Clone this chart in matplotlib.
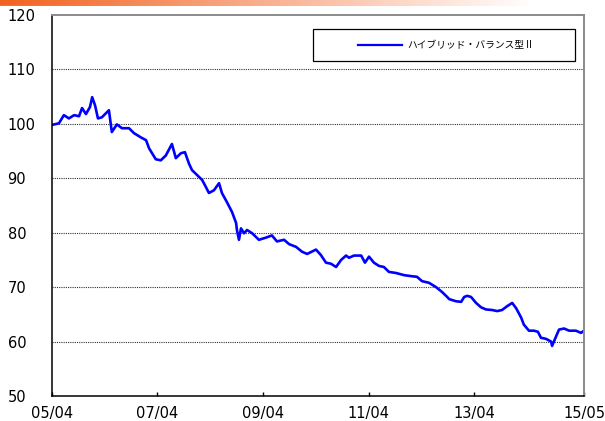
import numpy as np
import pandas as pd
import matplotlib
matplotlib.use('Agg')
import matplotlib.pyplot as plt
import matplotlib.dates as mdates
from matplotlib.patches import Rectangle, FancyBboxPatch

plt.rcParams['font.family'] = ['DejaVu Sans', 'Noto Sans CJK JP']

# 基準価額の推移 (2005/04 = 100)
dates = [
    '2005-04-01', '2005-05-19', '2005-06-22', '2005-07-27', '2005-09-01', '2005-10-05',
    '2005-10-26', '2005-11-22', '2005-12-20', '2006-01-04', '2006-01-24', '2006-02-13',
    '2006-03-12', '2006-04-30', '2006-05-20', '2006-06-24', '2006-07-29', '2006-09-16',
    '2006-10-20', '2006-12-08', '2007-01-12', '2007-02-02', '2007-03-20', '2007-04-24',
    '2007-05-29', '2007-07-10', '2007-08-06', '2007-09-10', '2007-10-08', '2007-11-05',
    '2007-11-26', '2007-12-31', '2008-02-04', '2008-03-01', '2008-03-22', '2008-04-26',
    '2008-05-31', '2008-06-20', '2008-07-25', '2008-08-29', '2008-09-26', '2008-10-02',
    '2008-10-16', '2008-10-30', '2008-11-20', '2008-12-11', '2009-01-15', '2009-03-03',
    '2009-04-21', '2009-06-01', '2009-07-06', '2009-08-24', '2009-09-28', '2009-11-15',
    '2009-12-27', '2010-01-31', '2010-04-02', '2010-05-06', '2010-06-10', '2010-07-15',
    '2010-08-19', '2010-09-23', '2010-10-27', '2010-11-17', '2010-12-21', '2011-02-09',
    '2011-03-07', '2011-04-04', '2011-05-08', '2011-06-12', '2011-07-16', '2011-08-20',
    '2011-10-08', '2011-12-03', '2012-01-27', '2012-03-01', '2012-04-05', '2012-05-23',
    '2012-07-11', '2012-08-22', '2012-09-26', '2012-10-10', '2012-11-27', '2013-01-01',
    '2013-01-22', '2013-02-12', '2013-03-10', '2013-04-14', '2013-05-18', '2013-06-22',
    '2013-08-03', '2013-09-07', '2013-10-11', '2013-11-15', '2013-12-20', '2014-01-17',
    '2014-02-20', '2014-03-11', '2014-04-15', '2014-05-19', '2014-06-16', '2014-07-07',
    '2014-08-11', '2014-09-15', '2014-09-22', '2014-10-19', '2014-11-09', '2014-12-14',
    '2015-01-18', '2015-03-06', '2015-04-10', '2015-05-01',
]
values = [
    99.8, 100.1, 101.6, 101.0, 101.6, 101.4,
    102.9, 101.8, 103.1, 104.9, 103.4, 101.0,
    101.2, 102.5, 98.5, 99.9, 99.2, 99.2,
    98.3, 97.5, 97.0, 95.5, 93.5, 93.3,
    94.2, 96.3, 93.7, 94.6, 94.8, 92.7,
    91.5, 90.6, 89.7, 88.4, 87.3, 87.8,
    89.1, 87.3, 85.6, 83.8, 81.8, 80.5,
    78.7, 80.8, 79.9, 80.5, 79.9, 78.7,
    79.1, 79.5, 78.4, 78.7, 77.9, 77.4,
    76.5, 76.1, 76.9, 75.9, 74.5, 74.3,
    73.7, 75.0, 75.8, 75.4, 75.8, 75.8,
    74.5, 75.6, 74.5, 73.9, 73.7, 72.8,
    72.6, 72.2, 72.0, 71.9, 71.1, 70.8,
    70.0, 69.1, 68.2, 67.8, 67.4, 67.3,
    68.2, 68.4, 68.2, 67.1, 66.3, 65.9,
    65.8, 65.6, 65.8, 66.5, 67.1, 66.1,
    64.4, 63.1, 62.0, 62.0, 61.8, 60.7,
    60.5, 60.0, 59.2, 60.9, 62.2, 62.4,
    62.0, 62.0, 61.6, 62.0,
]
series_name = 'ハイブリッド・バランス型Ⅱ'

tick_dates = ['2005-04-01', '2007-04-01', '2009-04-01', '2011-04-01', '2013-04-01', '2015-05-01']
y_ticks = [50, 60, 70, 80, 90, 100, 110, 120]

x = pd.to_datetime(dates)

fig = plt.figure(figsize=(6.05, 4.21), dpi=100)
ax = fig.add_axes([52 / 605, 25 / 421, 532 / 605, 381 / 421])

ax.plot(x, values, color='#0000FF', lw=1.9, solid_joinstyle='round')

ax.set_xlim(pd.Timestamp(tick_dates[0]), pd.Timestamp(tick_dates[-1]))
ax.set_ylim(50, 120)
ax.set_xticks(pd.to_datetime(tick_dates))
ax.xaxis.set_major_formatter(mdates.DateFormatter('%y/%m'))
ax.set_yticks(y_ticks)

ax.tick_params(axis='x', direction='in', length=3, width=1, pad=7, labelsize=10.5, top=False)
ax.tick_params(axis='y', length=0, pad=32, labelsize=10.5)
for lab in ax.get_yticklabels():
    lab.set_horizontalalignment('left')

# 点線のグリッド (60〜110)
for v in y_ticks[1:-1]:
    ax.axhline(v, color='#303030', lw=0.8, ls=(0, (1, 1)), zorder=1)

for s in ['left', 'bottom']:
    ax.spines[s].set_color('black')
    ax.spines[s].set_linewidth(1.1)
for s in ['top', 'right']:
    ax.spines[s].set_color('#8a8a8a')
    ax.spines[s].set_linewidth(1.4)

# 凡例
lx0, lx1 = (313 - 52) / 532, (575 - 52) / 532
ly0, ly1 = (396 - 61) / 381, (396 - 29) / 381
ax.add_patch(Rectangle((lx0, ly0), lx1 - lx0, ly1 - ly0, transform=ax.transAxes,
                       facecolor='white', edgecolor='black', lw=0.9, zorder=5))
ly = (ly0 + ly1) / 2
ax.plot([(358 - 52) / 532, (402 - 52) / 532], [ly, ly], transform=ax.transAxes,
        color='#0000FF', lw=1.6, zorder=6)
ax.text((407 - 52) / 532, ly, series_name, transform=ax.transAxes, va='center', ha='left',
        fontsize=7, family=['Noto Sans CJK JP', 'DejaVu Sans'], zorder=6)

# 上部のオレンジ帯
band = fig.add_axes([0, (421 - 6) / 421, 1, 12 / 421])
band.set_axis_off()
grad = np.linspace(0, 1, 400)
fade = np.clip(grad / 0.88, 0, 1)
c0 = np.array([0.95, 0.38, 0.12])
rgb = c0[None, :] * (1 - fade[:, None]) + fade[:, None]
img = band.imshow(rgb[None, :, :], extent=[0, 1, 0, 1], aspect='auto')
band.set_xlim(0, 1)
band.set_ylim(0, 1)
clip = FancyBboxPatch((0, 0), 1, 2, boxstyle='round,pad=0,rounding_size=0.5',
                      transform=band.transData, mutation_aspect=1 / 50)
img.set_clip_path(clip)

fig.savefig('out.png', dpi=100)
